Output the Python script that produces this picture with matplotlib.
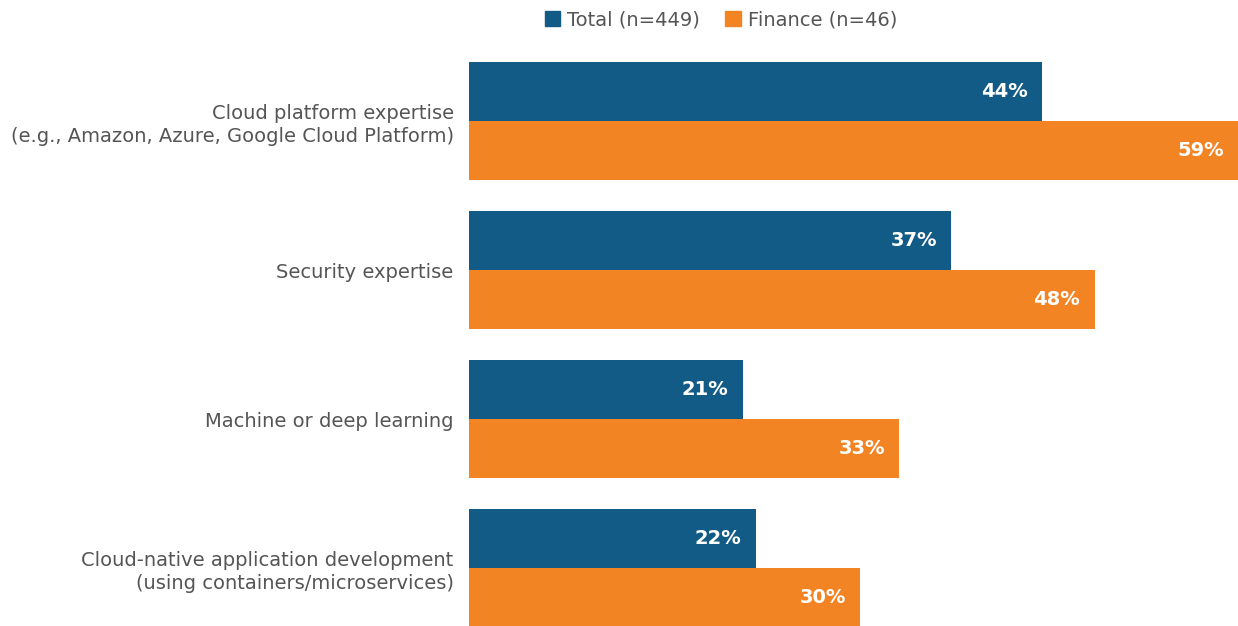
import matplotlib
matplotlib.use("Agg")
import matplotlib.pyplot as plt
from matplotlib.patches import Patch

categories = ["Cloud platform expertise\n(e.g., Amazon, Azure, Google Cloud Platform)",
              "Security expertise",
              "Machine or deep learning",
              "Cloud-native application development\n(using containers/microservices)"]
total = [44, 37, 21, 22]
finance = [59, 48, 33, 30]
series_names = ["Total (n=449)", "Finance (n=46)"]
colors = ["#135B87", "#F38424"]

plt.rcParams['font.family'] = ['DejaVu Sans']

fig = plt.figure(figsize=(12.38, 6.26), dpi=100)
ax = fig.add_axes([469/1238, 0, 1 - 469/1238, (626-40)/626])

bh = 0.397
y = list(range(len(categories)))
b1 = ax.barh([i - bh/2 for i in y], total, height=bh, color=colors[0])
b2 = ax.barh([i + bh/2 for i in y], finance, height=bh, color=colors[1])

for bars, vals in ((b1, total), (b2, finance)):
    for bar, v in zip(bars, vals):
        ax.text(bar.get_width() - 1.1, bar.get_y() + bar.get_height()/2, f"{v}%",
                ha="right", va="center", color="white", fontsize=14, fontweight="bold")

ax.set_xlim(0, 59)
ax.set_ylim(3.389, -0.544)
ax.set_yticks(y)
ax.set_yticklabels(categories, fontsize=14, color="#555555", linespacing=1.25)
ax.tick_params(axis="y", length=0, pad=11)
ax.set_xticks([])
for s in ax.spines.values():
    s.set_visible(False)

handles = [Patch(color=c) for c in colors]
fig.legend(handles, series_names, loc="center", bbox_to_anchor=(721/1238, 1 - 20/626),
           ncol=2, frameon=False, fontsize=14, labelcolor="#555555",
           handlelength=0.8, handleheight=0.8, handletextpad=0.35, columnspacing=1.3)

fig.savefig("out.png", dpi=100)
